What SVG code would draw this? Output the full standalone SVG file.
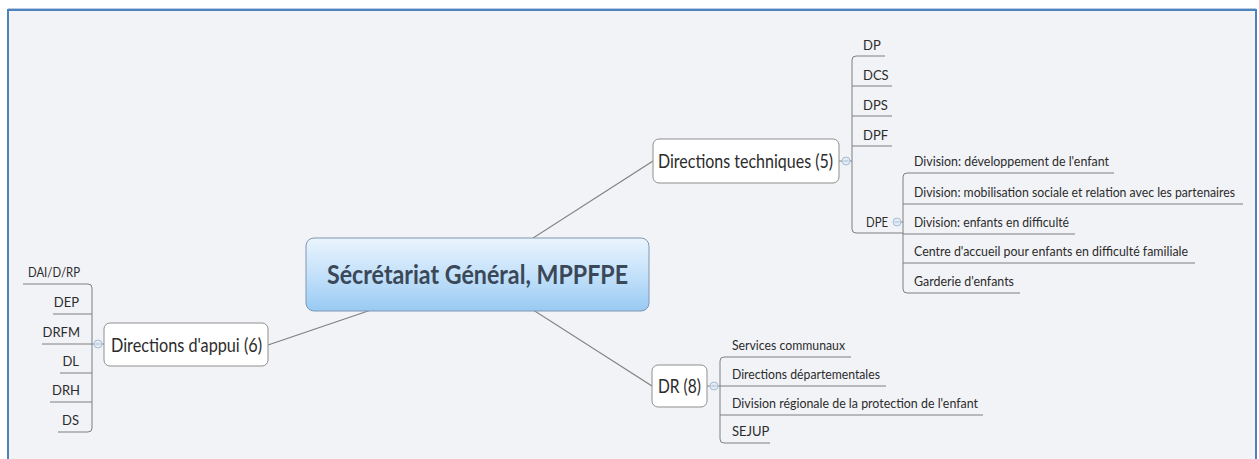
<svg xmlns="http://www.w3.org/2000/svg" width="1259" height="459" viewBox="0 0 1259 459">
<defs>
<linearGradient id="cg" x1="0" y1="0" x2="0" y2="1">
<stop offset="0" stop-color="#eaf4fd"/>
<stop offset="0.5" stop-color="#c4e1fa"/>
<stop offset="1" stop-color="#98caf3"/>
</linearGradient>
<style>
.t{font-family:Lato,"Liberation Sans",sans-serif;font-size:13px;fill:#2b2b2b}
.n{font-family:Lato,"Liberation Sans",sans-serif;font-size:19px;fill:#2b2b2b}
.box{fill:#ffffff;stroke:#8f8f8f;stroke-width:1}
.ln{fill:none;stroke:#7f7f7f;stroke-width:1}
.cn{fill:none;stroke:#7f7f7f;stroke-width:1.2}
.btn{fill:#e3ebf5;stroke:#a9bdd6;stroke-width:1}
.btl{stroke:#a9bdd6;stroke-width:1}
</style>
</defs>
<rect x="0" y="0" width="1259" height="459" fill="#ffffff"/>
<rect x="8" y="10" width="1248" height="470" fill="#f2f3f7" stroke="#4f81bd" stroke-width="2"/>
<line x1="8" y1="8.5" x2="1256" y2="8.5" stroke="#b8cde6" stroke-width="1"/>

<g id="connectors">
<line class="cn" x1="477" y1="274" x2="653" y2="161"/>
<line class="cn" x1="477" y1="274" x2="268" y2="345"/>
<line class="cn" x1="477" y1="274" x2="652" y2="386"/>
<path class="ln" d="M839 161 H852"/>
<path class="ln" d="M885 56 H856 Q852 56 852 60 V229 Q852 233 856 233 H903"/>
<path class="ln" d="M852 86 H892 M852 116 H892 M852 146 H892"/>
<path class="ln" d="M897 222 H903"/>
<path class="ln" d="M1114 173 H907 Q903 173 903 177 V289 Q903 293 907 293 H1020"/>
<path class="ln" d="M903 204 H1243 M903 234 H1075 M903 263 H1195"/>
<path class="ln" d="M104 344 H92"/>
<path class="ln" d="M23 284 H88 Q92 284 92 288 V428 Q92 432 88 432 H58"/>
<path class="ln" d="M53 314 H92 M42 344 H92 M60 373 H92 M50 402 H92"/>
<path class="ln" d="M707 386 H720"/>
<path class="ln" d="M851 357 H724 Q720 357 720 361 V439 Q720 443 724 443 H770"/>
<path class="ln" d="M720 386 H886 M720 415 H983"/>
</g>

<g id="central">
<rect x="306" y="238" width="343" height="73" rx="8" fill="url(#cg)" stroke="#7f97b3" stroke-width="1"/>
<text x="477.5" y="284" text-anchor="middle" font-family="Lato,'Liberation Sans',sans-serif" font-weight="bold" font-size="27" fill="#3a4858" textLength="301" lengthAdjust="spacingAndGlyphs">Sécrétariat Général, MPPFPE</text>
</g>

<g id="directions-techniques">
<rect class="box" x="653" y="139" width="186" height="44" rx="6"/>
<text class="n" x="658" y="168" textLength="175" lengthAdjust="spacingAndGlyphs">Directions techniques (5)</text>
<circle class="btn" cx="846" cy="161" r="4"/>
<line class="btl" x1="843.5" y1="161" x2="848.5" y2="161"/>
</g>

<g id="dp"><text class="t" x="863" y="50">DP</text></g>
<g id="dcs"><text class="t" x="863" y="80">DCS</text></g>
<g id="dps"><text class="t" x="863" y="110">DPS</text></g>
<g id="dpf"><text class="t" x="863" y="140">DPF</text></g>
<g id="dpe">
<text class="t" x="866" y="227" textLength="22" lengthAdjust="spacingAndGlyphs">DPE</text>
<circle class="btn" cx="897" cy="222" r="4"/>
<line class="btl" x1="894.5" y1="222" x2="899.5" y2="222"/>
</g>

<g id="div-dev"><text class="t" x="914" y="166" textLength="195" lengthAdjust="spacingAndGlyphs">Division: développement de l'enfant</text></g>
<g id="div-mob"><text class="t" x="914" y="197" textLength="321" lengthAdjust="spacingAndGlyphs">Division: mobilisation sociale et relation avec les partenaires</text></g>
<g id="div-enf"><text class="t" x="914" y="227" textLength="155" lengthAdjust="spacingAndGlyphs">Division: enfants en difficulté</text></g>
<g id="centre"><text class="t" x="914" y="256" textLength="274" lengthAdjust="spacingAndGlyphs">Centre d'accueil pour enfants en difficulté familiale</text></g>
<g id="garderie"><text class="t" x="914" y="286" textLength="100" lengthAdjust="spacingAndGlyphs">Garderie d'enfants</text></g>

<g id="directions-appui">
<rect class="box" x="104" y="323" width="164" height="43" rx="6"/>
<text class="n" x="111" y="352" textLength="151" lengthAdjust="spacingAndGlyphs">Directions d'appui (6)</text>
<circle class="btn" cx="98" cy="344" r="4"/>
<line class="btl" x1="95.5" y1="344" x2="100.5" y2="344"/>
</g>

<g id="dai"><text class="t" x="80" y="277" text-anchor="end" textLength="52" lengthAdjust="spacingAndGlyphs">DAI/D/RP</text></g>
<g id="dep"><text class="t" x="79" y="307" text-anchor="end">DEP</text></g>
<g id="drfm"><text class="t" x="80" y="337" text-anchor="end">DRFM</text></g>
<g id="dl"><text class="t" x="79" y="366" text-anchor="end">DL</text></g>
<g id="drh"><text class="t" x="80" y="395" text-anchor="end">DRH</text></g>
<g id="ds"><text class="t" x="79" y="425" text-anchor="end">DS</text></g>

<g id="dr">
<rect class="box" x="652" y="365" width="55" height="42" rx="6"/>
<text class="n" x="658" y="393" textLength="43" lengthAdjust="spacingAndGlyphs">DR (8)</text>
<circle class="btn" cx="714" cy="386" r="4"/>
<line class="btl" x1="711.5" y1="386" x2="716.5" y2="386"/>
</g>

<g id="services"><text class="t" x="732" y="350" textLength="113" lengthAdjust="spacingAndGlyphs">Services communaux</text></g>
<g id="dir-dep"><text class="t" x="732" y="379" textLength="148" lengthAdjust="spacingAndGlyphs">Directions départementales</text></g>
<g id="div-reg"><text class="t" x="732" y="408" textLength="246" lengthAdjust="spacingAndGlyphs">Division régionale de la protection de l'enfant</text></g>
<g id="sejup"><text class="t" x="732" y="436">SEJUP</text></g>
</svg>
